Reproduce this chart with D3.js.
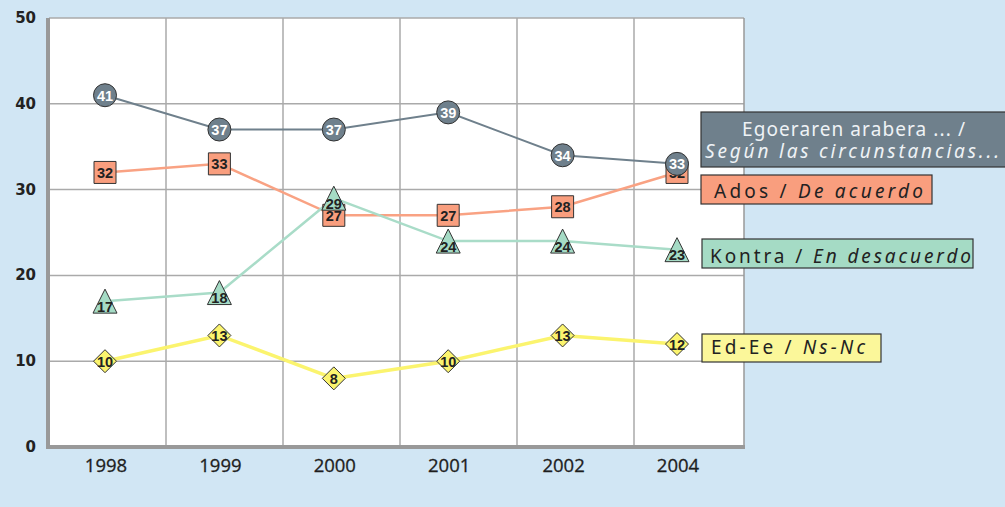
<!DOCTYPE html>
<html>
<head>
<meta charset="utf-8">
<script src="https://cdn.jsdelivr.net/npm/d3@7"></script>
<style>
  html, body { margin: 0; padding: 0; background: #d1e6f4; }
  svg { display: block; }
  .ytick { font-family: "DejaVu Sans", sans-serif; font-weight: bold; font-size: 15px; fill: #222; }
  .xtick { font-family: "Open Sans", sans-serif; font-size: 18.5px; fill: #1e1e1e; stroke: #1e1e1e; stroke-width: 0.3px; }
  .val { font-family: "Liberation Sans", Arial, sans-serif; font-weight: bold; font-size: 14.5px; }
  .leg { font-family: "Noto Sans", sans-serif; font-size: 19px; }
</style>
</head>
<body>
<div id="chart"></div>
<script>
var w = 1005, h = 507;

// datos
var years = ["1998", "1999", "2000", "2001", "2002", "2004"];
var egoera = [41, 37, 37, 39, 34, 33];
var ados = [32, 33, 27, 27, 28, 32];
var kontra = [17, 18, 29, 24, 24, 23];
var nsnc = [10, 13, 8, 10, 13, 12];
var yTicks = [0, 10, 20, 30, 40, 50];

var series = [
  { name: "ados", values: ados, color: "#f99e7e", line: "#f9a283", shape: "square", width: 2.5, text: "#222" },
  { name: "kontra", values: kontra, color: "#a5dbc5", line: "#a9dcc8", shape: "triangle", width: 2.5, text: "#222" },
  { name: "nsnc", values: nsnc, color: "#fbf46e", line: "#fbf46e", shape: "diamond", width: 3.5, text: "#222" },
  { name: "egoera", values: egoera, color: "#6f808c", line: "#6f808c", shape: "circle", width: 2, text: "#fff" }
];

// cajas de leyenda: cada linea = [normal, cursiva, ancho]
var legend = [
  { lines: [["Egoeraren arabera ... /", "", 223], ["", "Según las circunstancias...", 294]], fill: "#6f808c", txt: "#eef2f5",
    x: 701, y: 112, w: 310, h: 55, tx: [742, 705], ty: [136, 158] },
  { lines: [["Ados / ", "De acuerdo", 209]], fill: "#f99e7e", txt: "#222", x: 701, y: 175, w: 231, h: 29, tx: [714], ty: [198] },
  { lines: [["Kontra / ", "En desacuerdo", 261]], fill: "#a5dbc5", txt: "#222", x: 702, y: 239, w: 271, h: 29, tx: [710], ty: [263] },
  { lines: [["Ed-Ee / ", "Ns-Nc", 154]], fill: "#fbf79a", txt: "#222", x: 702, y: 334, w: 179, h: 28, tx: [711], ty: [354] }
];

var pLeft = 49, pRight = 744, pTop = 18, pBottom = 447;

var y = d3.scaleLinear().domain([0, 50]).range([pBottom, pTop]);
var x = d3.scalePoint().domain(years).range([105, 677]);
var grid = d3.scaleBand().domain(years).range([pLeft, 751]);

var svg = d3.select("#chart").append("svg")
    .attr("width", w)
    .attr("height", h);

svg.append("rect")
    .attr("x", pLeft).attr("y", pTop)
    .attr("width", pRight - pLeft).attr("height", pBottom - pTop)
    .attr("fill", "#fff");

// rejilla
svg.selectAll(".hgrid")
    .data(yTicks.filter(function(d) { return d > 0; }))
    .enter().append("line")
    .attr("x1", pLeft).attr("x2", pRight)
    .attr("y1", function(d) { return y(d); })
    .attr("y2", function(d) { return y(d); })
    .attr("stroke", "#aaa").attr("stroke-width", 1.5);

svg.selectAll(".vgrid")
    .data(years.slice(1))
    .enter().append("line")
    .attr("x1", function(d) { return grid(d); })
    .attr("x2", function(d) { return grid(d); })
    .attr("y1", pTop).attr("y2", pBottom)
    .attr("stroke", "#aaa").attr("stroke-width", 1.5);

svg.append("line")
    .attr("x1", pRight).attr("x2", pRight).attr("y1", pTop).attr("y2", pBottom)
    .attr("stroke", "#999").attr("stroke-width", 1.5);

// ejes
svg.append("line")
    .attr("x1", 48).attr("x2", 48).attr("y1", pTop).attr("y2", pBottom + 2)
    .attr("stroke", "#999").attr("stroke-width", 4);
svg.append("line")
    .attr("x1", 46).attr("x2", pRight + 1).attr("y1", pBottom).attr("y2", pBottom)
    .attr("stroke", "#999").attr("stroke-width", 4);

svg.selectAll(".ytick")
    .data(yTicks)
    .enter().append("text")
    .attr("class", "ytick")
    .attr("x", 36)
    .attr("y", function(d) { return y(d) + 5; })
    .attr("text-anchor", "end")
    .text(function(d) { return d; });

svg.selectAll(".xtick")
    .data(years)
    .enter().append("text")
    .attr("class", "xtick")
    .attr("x", function(d) { return x(d) + 1; })
    .attr("y", 472)
    .attr("text-anchor", "middle")
    .text(function(d) { return d; });

// lineas
var line = d3.line()
    .x(function(d, i) { return x(years[i]); })
    .y(function(d) { return y(d); });

series.forEach(function(s) {
  svg.append("path")
      .attr("d", line(s.values))
      .attr("fill", "none")
      .attr("stroke", s.line)
      .attr("stroke-width", s.width);
});

// marcadores
function shapePath(shape) {
  if (shape == "square") return "M-11,-11H11V11H-11Z";
  if (shape == "triangle") return "M0,-12L12,12H-12Z";
  if (shape == "diamond") return "M0,-11.5L11.5,0L0,11.5L-11.5,0Z";
  return null;
}

series.forEach(function(s) {
  var g = svg.append("g").selectAll("g")
      .data(s.values)
      .enter().append("g")
      .attr("transform", function(d, i) { return "translate(" + x(years[i]) + "," + y(d) + ")"; });

  if (s.shape == "circle") {
    g.append("circle").attr("r", 11.5);
  } else {
    g.append("path").attr("d", shapePath(s.shape));
  }
  g.select(":first-child")
      .attr("fill", s.color)
      .attr("stroke", "#333")
      .attr("stroke-width", 1);

  g.append("text")
      .attr("class", "val")
      .attr("text-anchor", "middle")
      .attr("y", s.shape == "triangle" ? 10.5 : 5.5)
      .attr("fill", s.text)
      .text(function(d) { return d; });
});

// leyenda
legend.forEach(function(l) {
  var g = svg.append("g");
  g.append("rect")
      .attr("x", l.x).attr("y", l.y)
      .attr("width", l.w).attr("height", l.h)
      .attr("fill", l.fill)
      .attr("stroke", "#333")
      .attr("stroke-width", 1.2);

  l.lines.forEach(function(parts, i) {
    var t = g.append("text")
        .attr("class", "leg")
        .attr("fill", l.txt)
        .attr("x", l.tx[i])
        .attr("y", l.ty[i])
        .attr("textLength", parts[2])
        .attr("lengthAdjust", "spacing");
    if (parts[0]) t.append("tspan").text(parts[0]);
    if (parts[1]) t.append("tspan").attr("font-style", "italic").text(parts[1]);
  });
});
</script>
</body>
</html>
